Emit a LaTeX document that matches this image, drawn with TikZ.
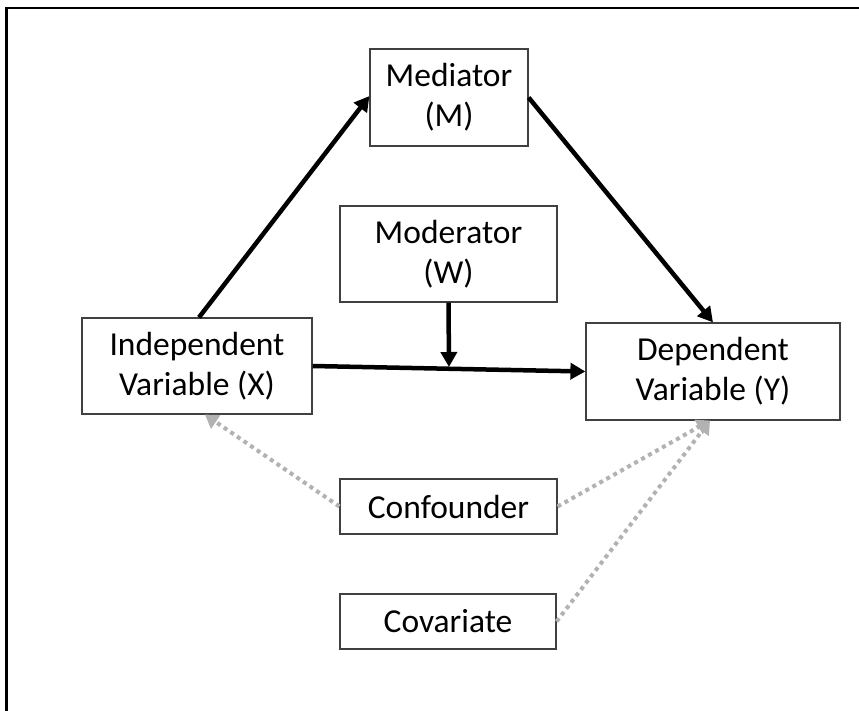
\documentclass[tikz,border=0pt]{standalone}
\usepackage{fontspec}
\setmainfont{Carlito}
\usetikzlibrary{arrows.meta}
\begin{document}
\begin{tikzpicture}[x=1pt,y=-1pt,
  box/.style={draw=black!75, line width=1.2pt, fill=white, align=center,
    inner sep=0pt, font=\fontsize{33.5}{40}\selectfont},
  solidarrow/.style={line width=4.5pt, -{Triangle[length=15pt,width=16pt]}},
  dotarrow/.style={line width=4pt, draw=black!30, dash pattern=on 4pt off 4pt,
    -{Triangle[length=13pt,width=16pt,fill=black!30]}}]
\useasboundingbox (0,0) rectangle (859,711);
\fill[white] (0,0) rectangle (859,711);
\draw[line width=2.5pt] (6.5,711) -- (6.5,8) -- (859,8);
\node[box, minimum width=158pt, minimum height=97pt] (M) at (449,97.5) {Mediator\\(M)};
\node[box, minimum width=217pt, minimum height=96pt] (W) at (448.5,254) {Moderator\\(W)};
\node[box, minimum width=230pt, minimum height=96pt] (X) at (197,366) {Independent\\Variable (X)};
\node[box, minimum width=254pt, minimum height=97pt] (Y) at (713,371.5) {Dependent\\Variable (Y)};
\node[box, minimum width=217pt, minimum height=55pt] (C) at (448.5,506.5) {Confounder};
\node[box, minimum width=216pt, minimum height=55pt] (V) at (448,621.5) {Covariate};
\coordinate (mid) at (449,367);
\draw[solidarrow] ([xshift=2pt]X.north) -- ([yshift=1.5pt]M.west);
\draw[solidarrow] (M.east) -- (Y.north);
\draw[solidarrow] (X.east) -- (Y.west);
\draw[solidarrow] (W.south) -- (mid);
\draw[dotarrow] (C.west) -- ([xshift=8pt]X.south);
\draw[dotarrow] (C.east) -- ([xshift=-3pt]Y.south);
\draw[dotarrow] (V.east) -- ([xshift=-3pt]Y.south);
\end{tikzpicture}
\end{document}
